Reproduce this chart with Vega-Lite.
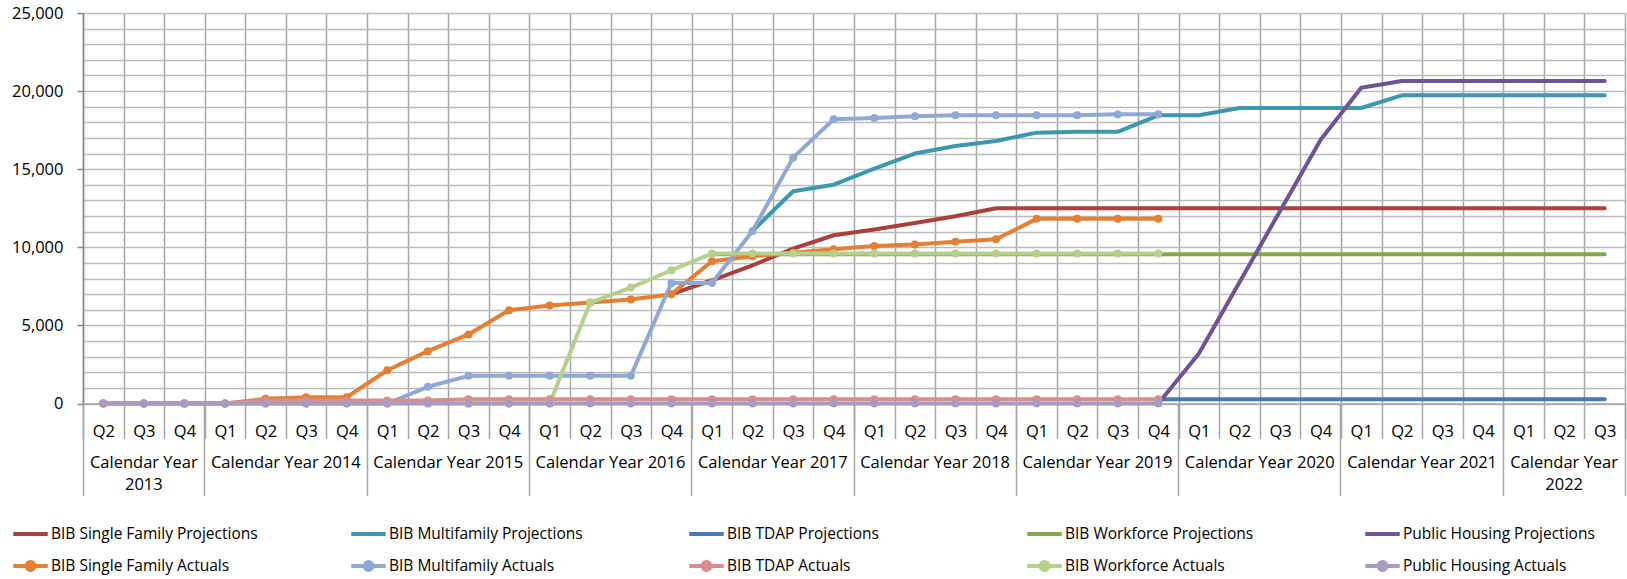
{
  "$schema": "https://vega.github.io/schema/vega-lite/v6.json",
  "width": 1542,
  "height": 390.5,
  "autosize": {"type": "none"},
  "padding": {"left": 83, "top": 13, "right": 2, "bottom": 175.5},
  "config": {"view": {"stroke": null}, "font": "Open Sans"},
  "data": {"values": [
    {"s":"BIB Single Family Projections","q":"2016 Q4","v":7000},
    {"s":"BIB Single Family Projections","q":"2017 Q1","v":7890},
    {"s":"BIB Single Family Projections","q":"2017 Q2","v":8850},
    {"s":"BIB Single Family Projections","q":"2017 Q3","v":9920},
    {"s":"BIB Single Family Projections","q":"2017 Q4","v":10770},
    {"s":"BIB Single Family Projections","q":"2018 Q1","v":11140},
    {"s":"BIB Single Family Projections","q":"2018 Q2","v":11560},
    {"s":"BIB Single Family Projections","q":"2018 Q3","v":11990},
    {"s":"BIB Single Family Projections","q":"2018 Q4","v":12500},
    {"s":"BIB Single Family Projections","q":"2019 Q1","v":12500},
    {"s":"BIB Single Family Projections","q":"2019 Q2","v":12500},
    {"s":"BIB Single Family Projections","q":"2019 Q3","v":12500},
    {"s":"BIB Single Family Projections","q":"2019 Q4","v":12500},
    {"s":"BIB Single Family Projections","q":"2020 Q1","v":12500},
    {"s":"BIB Single Family Projections","q":"2020 Q2","v":12500},
    {"s":"BIB Single Family Projections","q":"2020 Q3","v":12500},
    {"s":"BIB Single Family Projections","q":"2020 Q4","v":12500},
    {"s":"BIB Single Family Projections","q":"2021 Q1","v":12500},
    {"s":"BIB Single Family Projections","q":"2021 Q2","v":12500},
    {"s":"BIB Single Family Projections","q":"2021 Q3","v":12500},
    {"s":"BIB Single Family Projections","q":"2021 Q4","v":12500},
    {"s":"BIB Single Family Projections","q":"2022 Q1","v":12500},
    {"s":"BIB Single Family Projections","q":"2022 Q2","v":12500},
    {"s":"BIB Single Family Projections","q":"2022 Q3","v":12500},
    {"s":"BIB Multifamily Projections","q":"2017 Q2","v":11050},
    {"s":"BIB Multifamily Projections","q":"2017 Q3","v":13590},
    {"s":"BIB Multifamily Projections","q":"2017 Q4","v":14010},
    {"s":"BIB Multifamily Projections","q":"2018 Q1","v":15040},
    {"s":"BIB Multifamily Projections","q":"2018 Q2","v":16000},
    {"s":"BIB Multifamily Projections","q":"2018 Q3","v":16490},
    {"s":"BIB Multifamily Projections","q":"2018 Q4","v":16810},
    {"s":"BIB Multifamily Projections","q":"2019 Q1","v":17340},
    {"s":"BIB Multifamily Projections","q":"2019 Q2","v":17390},
    {"s":"BIB Multifamily Projections","q":"2019 Q3","v":17390},
    {"s":"BIB Multifamily Projections","q":"2019 Q4","v":18450},
    {"s":"BIB Multifamily Projections","q":"2020 Q1","v":18450},
    {"s":"BIB Multifamily Projections","q":"2020 Q2","v":18920},
    {"s":"BIB Multifamily Projections","q":"2020 Q3","v":18920},
    {"s":"BIB Multifamily Projections","q":"2020 Q4","v":18920},
    {"s":"BIB Multifamily Projections","q":"2021 Q1","v":18920},
    {"s":"BIB Multifamily Projections","q":"2021 Q2","v":19730},
    {"s":"BIB Multifamily Projections","q":"2021 Q3","v":19730},
    {"s":"BIB Multifamily Projections","q":"2021 Q4","v":19730},
    {"s":"BIB Multifamily Projections","q":"2022 Q1","v":19730},
    {"s":"BIB Multifamily Projections","q":"2022 Q2","v":19730},
    {"s":"BIB Multifamily Projections","q":"2022 Q3","v":19730},
    {"s":"BIB TDAP Projections","q":"2019 Q4","v":280},
    {"s":"BIB TDAP Projections","q":"2020 Q1","v":280},
    {"s":"BIB TDAP Projections","q":"2020 Q2","v":280},
    {"s":"BIB TDAP Projections","q":"2020 Q3","v":280},
    {"s":"BIB TDAP Projections","q":"2020 Q4","v":280},
    {"s":"BIB TDAP Projections","q":"2021 Q1","v":280},
    {"s":"BIB TDAP Projections","q":"2021 Q2","v":280},
    {"s":"BIB TDAP Projections","q":"2021 Q3","v":280},
    {"s":"BIB TDAP Projections","q":"2021 Q4","v":280},
    {"s":"BIB TDAP Projections","q":"2022 Q1","v":280},
    {"s":"BIB TDAP Projections","q":"2022 Q2","v":280},
    {"s":"BIB TDAP Projections","q":"2022 Q3","v":280},
    {"s":"BIB Workforce Projections","q":"2017 Q1","v":9550},
    {"s":"BIB Workforce Projections","q":"2017 Q2","v":9550},
    {"s":"BIB Workforce Projections","q":"2017 Q3","v":9550},
    {"s":"BIB Workforce Projections","q":"2017 Q4","v":9550},
    {"s":"BIB Workforce Projections","q":"2018 Q1","v":9550},
    {"s":"BIB Workforce Projections","q":"2018 Q2","v":9550},
    {"s":"BIB Workforce Projections","q":"2018 Q3","v":9550},
    {"s":"BIB Workforce Projections","q":"2018 Q4","v":9550},
    {"s":"BIB Workforce Projections","q":"2019 Q1","v":9550},
    {"s":"BIB Workforce Projections","q":"2019 Q2","v":9550},
    {"s":"BIB Workforce Projections","q":"2019 Q3","v":9550},
    {"s":"BIB Workforce Projections","q":"2019 Q4","v":9550},
    {"s":"BIB Workforce Projections","q":"2020 Q1","v":9550},
    {"s":"BIB Workforce Projections","q":"2020 Q2","v":9550},
    {"s":"BIB Workforce Projections","q":"2020 Q3","v":9550},
    {"s":"BIB Workforce Projections","q":"2020 Q4","v":9550},
    {"s":"BIB Workforce Projections","q":"2021 Q1","v":9550},
    {"s":"BIB Workforce Projections","q":"2021 Q2","v":9550},
    {"s":"BIB Workforce Projections","q":"2021 Q3","v":9550},
    {"s":"BIB Workforce Projections","q":"2021 Q4","v":9550},
    {"s":"BIB Workforce Projections","q":"2022 Q1","v":9550},
    {"s":"BIB Workforce Projections","q":"2022 Q2","v":9550},
    {"s":"BIB Workforce Projections","q":"2022 Q3","v":9550},
    {"s":"Public Housing Projections","q":"2019 Q4","v":0},
    {"s":"Public Housing Projections","q":"2020 Q1","v":3200},
    {"s":"Public Housing Projections","q":"2020 Q2","v":7760},
    {"s":"Public Housing Projections","q":"2020 Q3","v":12330},
    {"s":"Public Housing Projections","q":"2020 Q4","v":16890},
    {"s":"Public Housing Projections","q":"2021 Q1","v":20220},
    {"s":"Public Housing Projections","q":"2021 Q2","v":20650},
    {"s":"Public Housing Projections","q":"2021 Q3","v":20650},
    {"s":"Public Housing Projections","q":"2021 Q4","v":20650},
    {"s":"Public Housing Projections","q":"2022 Q1","v":20650},
    {"s":"Public Housing Projections","q":"2022 Q2","v":20650},
    {"s":"Public Housing Projections","q":"2022 Q3","v":20650},
    {"s":"BIB Single Family Actuals","q":"2013 Q2","v":0},
    {"s":"BIB Single Family Actuals","q":"2013 Q3","v":0},
    {"s":"BIB Single Family Actuals","q":"2013 Q4","v":0},
    {"s":"BIB Single Family Actuals","q":"2014 Q1","v":0},
    {"s":"BIB Single Family Actuals","q":"2014 Q2","v":300},
    {"s":"BIB Single Family Actuals","q":"2014 Q3","v":400},
    {"s":"BIB Single Family Actuals","q":"2014 Q4","v":400},
    {"s":"BIB Single Family Actuals","q":"2015 Q1","v":2130},
    {"s":"BIB Single Family Actuals","q":"2015 Q2","v":3350},
    {"s":"BIB Single Family Actuals","q":"2015 Q3","v":4420},
    {"s":"BIB Single Family Actuals","q":"2015 Q4","v":5970},
    {"s":"BIB Single Family Actuals","q":"2016 Q1","v":6270},
    {"s":"BIB Single Family Actuals","q":"2016 Q2","v":6460},
    {"s":"BIB Single Family Actuals","q":"2016 Q3","v":6660},
    {"s":"BIB Single Family Actuals","q":"2016 Q4","v":7000},
    {"s":"BIB Single Family Actuals","q":"2017 Q1","v":9110},
    {"s":"BIB Single Family Actuals","q":"2017 Q2","v":9430},
    {"s":"BIB Single Family Actuals","q":"2017 Q3","v":9650},
    {"s":"BIB Single Family Actuals","q":"2017 Q4","v":9880},
    {"s":"BIB Single Family Actuals","q":"2018 Q1","v":10090},
    {"s":"BIB Single Family Actuals","q":"2018 Q2","v":10180},
    {"s":"BIB Single Family Actuals","q":"2018 Q3","v":10350},
    {"s":"BIB Single Family Actuals","q":"2018 Q4","v":10520},
    {"s":"BIB Single Family Actuals","q":"2019 Q1","v":11820},
    {"s":"BIB Single Family Actuals","q":"2019 Q2","v":11820},
    {"s":"BIB Single Family Actuals","q":"2019 Q3","v":11820},
    {"s":"BIB Single Family Actuals","q":"2019 Q4","v":11820},
    {"s":"BIB Multifamily Actuals","q":"2013 Q2","v":0},
    {"s":"BIB Multifamily Actuals","q":"2013 Q3","v":0},
    {"s":"BIB Multifamily Actuals","q":"2013 Q4","v":0},
    {"s":"BIB Multifamily Actuals","q":"2014 Q1","v":0},
    {"s":"BIB Multifamily Actuals","q":"2014 Q2","v":0},
    {"s":"BIB Multifamily Actuals","q":"2014 Q3","v":0},
    {"s":"BIB Multifamily Actuals","q":"2014 Q4","v":0},
    {"s":"BIB Multifamily Actuals","q":"2015 Q1","v":0},
    {"s":"BIB Multifamily Actuals","q":"2015 Q2","v":1070},
    {"s":"BIB Multifamily Actuals","q":"2015 Q3","v":1770},
    {"s":"BIB Multifamily Actuals","q":"2015 Q4","v":1770},
    {"s":"BIB Multifamily Actuals","q":"2016 Q1","v":1770},
    {"s":"BIB Multifamily Actuals","q":"2016 Q2","v":1770},
    {"s":"BIB Multifamily Actuals","q":"2016 Q3","v":1770},
    {"s":"BIB Multifamily Actuals","q":"2016 Q4","v":7720},
    {"s":"BIB Multifamily Actuals","q":"2017 Q1","v":7720},
    {"s":"BIB Multifamily Actuals","q":"2017 Q2","v":11050},
    {"s":"BIB Multifamily Actuals","q":"2017 Q3","v":15740},
    {"s":"BIB Multifamily Actuals","q":"2017 Q4","v":18200},
    {"s":"BIB Multifamily Actuals","q":"2018 Q1","v":18280},
    {"s":"BIB Multifamily Actuals","q":"2018 Q2","v":18390},
    {"s":"BIB Multifamily Actuals","q":"2018 Q3","v":18450},
    {"s":"BIB Multifamily Actuals","q":"2018 Q4","v":18450},
    {"s":"BIB Multifamily Actuals","q":"2019 Q1","v":18450},
    {"s":"BIB Multifamily Actuals","q":"2019 Q2","v":18450},
    {"s":"BIB Multifamily Actuals","q":"2019 Q3","v":18520},
    {"s":"BIB Multifamily Actuals","q":"2019 Q4","v":18520},
    {"s":"BIB TDAP Actuals","q":"2013 Q2","v":0},
    {"s":"BIB TDAP Actuals","q":"2013 Q3","v":0},
    {"s":"BIB TDAP Actuals","q":"2013 Q4","v":0},
    {"s":"BIB TDAP Actuals","q":"2014 Q1","v":0},
    {"s":"BIB TDAP Actuals","q":"2014 Q2","v":200},
    {"s":"BIB TDAP Actuals","q":"2014 Q3","v":200},
    {"s":"BIB TDAP Actuals","q":"2014 Q4","v":200},
    {"s":"BIB TDAP Actuals","q":"2015 Q1","v":200},
    {"s":"BIB TDAP Actuals","q":"2015 Q2","v":200},
    {"s":"BIB TDAP Actuals","q":"2015 Q3","v":280},
    {"s":"BIB TDAP Actuals","q":"2015 Q4","v":280},
    {"s":"BIB TDAP Actuals","q":"2016 Q1","v":280},
    {"s":"BIB TDAP Actuals","q":"2016 Q2","v":280},
    {"s":"BIB TDAP Actuals","q":"2016 Q3","v":280},
    {"s":"BIB TDAP Actuals","q":"2016 Q4","v":280},
    {"s":"BIB TDAP Actuals","q":"2017 Q1","v":280},
    {"s":"BIB TDAP Actuals","q":"2017 Q2","v":280},
    {"s":"BIB TDAP Actuals","q":"2017 Q3","v":280},
    {"s":"BIB TDAP Actuals","q":"2017 Q4","v":280},
    {"s":"BIB TDAP Actuals","q":"2018 Q1","v":280},
    {"s":"BIB TDAP Actuals","q":"2018 Q2","v":280},
    {"s":"BIB TDAP Actuals","q":"2018 Q3","v":280},
    {"s":"BIB TDAP Actuals","q":"2018 Q4","v":280},
    {"s":"BIB TDAP Actuals","q":"2019 Q1","v":280},
    {"s":"BIB TDAP Actuals","q":"2019 Q2","v":280},
    {"s":"BIB TDAP Actuals","q":"2019 Q3","v":280},
    {"s":"BIB TDAP Actuals","q":"2019 Q4","v":280},
    {"s":"BIB Workforce Actuals","q":"2015 Q3","v":0},
    {"s":"BIB Workforce Actuals","q":"2015 Q4","v":0},
    {"s":"BIB Workforce Actuals","q":"2016 Q1","v":0},
    {"s":"BIB Workforce Actuals","q":"2016 Q2","v":6460},
    {"s":"BIB Workforce Actuals","q":"2016 Q3","v":7420},
    {"s":"BIB Workforce Actuals","q":"2016 Q4","v":8530},
    {"s":"BIB Workforce Actuals","q":"2017 Q1","v":9600},
    {"s":"BIB Workforce Actuals","q":"2017 Q2","v":9600},
    {"s":"BIB Workforce Actuals","q":"2017 Q3","v":9600},
    {"s":"BIB Workforce Actuals","q":"2017 Q4","v":9600},
    {"s":"BIB Workforce Actuals","q":"2018 Q1","v":9600},
    {"s":"BIB Workforce Actuals","q":"2018 Q2","v":9600},
    {"s":"BIB Workforce Actuals","q":"2018 Q3","v":9600},
    {"s":"BIB Workforce Actuals","q":"2018 Q4","v":9600},
    {"s":"BIB Workforce Actuals","q":"2019 Q1","v":9600},
    {"s":"BIB Workforce Actuals","q":"2019 Q2","v":9600},
    {"s":"BIB Workforce Actuals","q":"2019 Q3","v":9600},
    {"s":"BIB Workforce Actuals","q":"2019 Q4","v":9600},
    {"s":"Public Housing Actuals","q":"2013 Q2","v":0},
    {"s":"Public Housing Actuals","q":"2013 Q3","v":0},
    {"s":"Public Housing Actuals","q":"2013 Q4","v":0},
    {"s":"Public Housing Actuals","q":"2014 Q1","v":0},
    {"s":"Public Housing Actuals","q":"2014 Q2","v":0},
    {"s":"Public Housing Actuals","q":"2014 Q3","v":0},
    {"s":"Public Housing Actuals","q":"2014 Q4","v":0},
    {"s":"Public Housing Actuals","q":"2015 Q1","v":0},
    {"s":"Public Housing Actuals","q":"2015 Q2","v":0},
    {"s":"Public Housing Actuals","q":"2015 Q3","v":0},
    {"s":"Public Housing Actuals","q":"2015 Q4","v":0},
    {"s":"Public Housing Actuals","q":"2016 Q1","v":0},
    {"s":"Public Housing Actuals","q":"2016 Q2","v":0},
    {"s":"Public Housing Actuals","q":"2016 Q3","v":0},
    {"s":"Public Housing Actuals","q":"2016 Q4","v":0},
    {"s":"Public Housing Actuals","q":"2017 Q1","v":0},
    {"s":"Public Housing Actuals","q":"2017 Q2","v":0},
    {"s":"Public Housing Actuals","q":"2017 Q3","v":0},
    {"s":"Public Housing Actuals","q":"2017 Q4","v":0},
    {"s":"Public Housing Actuals","q":"2018 Q1","v":0},
    {"s":"Public Housing Actuals","q":"2018 Q2","v":0},
    {"s":"Public Housing Actuals","q":"2018 Q3","v":0},
    {"s":"Public Housing Actuals","q":"2018 Q4","v":0},
    {"s":"Public Housing Actuals","q":"2019 Q1","v":0},
    {"s":"Public Housing Actuals","q":"2019 Q2","v":0},
    {"s":"Public Housing Actuals","q":"2019 Q3","v":0},
    {"s":"Public Housing Actuals","q":"2019 Q4","v":0}
  ]},
  "resolve": {"scale": {"x": "independent"}, "axis": {"x": "independent"}},
  "layer": [
    {
      "transform": [{"filter": "indexof(datum.s, 'Projections') >= 0"}],
      "mark": {"type": "line", "strokeWidth": 4, "strokeCap": "round", "strokeJoin": "round"},
      "encoding": {
        "x": {"field": "q", "type": "ordinal",
          "scale": {"domain": ["2013 Q2","2013 Q3","2013 Q4","2014 Q1","2014 Q2","2014 Q3","2014 Q4","2015 Q1","2015 Q2","2015 Q3","2015 Q4","2016 Q1","2016 Q2","2016 Q3","2016 Q4","2017 Q1","2017 Q2","2017 Q3","2017 Q4","2018 Q1","2018 Q2","2018 Q3","2018 Q4","2019 Q1","2019 Q2","2019 Q3","2019 Q4","2020 Q1","2020 Q2","2020 Q3","2020 Q4","2021 Q1","2021 Q2","2021 Q3","2021 Q4","2022 Q1","2022 Q2","2022 Q3"], "paddingInner": 0, "paddingOuter": 0},
          "axis": {"orient": "bottom", "title": null, "tickBand": "extent", "grid": true, "gridColor": "#a6a6a6", "gridWidth": 1.5, "tickSize": 35, "tickColor": "#a6a6a6", "tickWidth": 1.5, "domainColor": "#a6a6a6", "domainWidth": 1.5, "labelExpr": "split(datum.value, ' ')[1]", "labelAngle": 0, "labelBaseline": "middle", "labelPadding": -7, "labelFont": "Open Sans", "labelFontSize": 16.5, "labelColor": "#000000", "labelOverlap": false}},
        "y": {"field": "v", "type": "quantitative",
          "scale": {"domain": [0, 25000], "nice": false},
          "axis": {"title": null, "values": [0,1000,2000,3000,4000,5000,6000,7000,8000,9000,10000,11000,12000,13000,14000,15000,16000,17000,18000,19000,20000,21000,22000,23000,24000,25000],
            "labelExpr": "datum.value % 5000 === 0 ? format(datum.value, ',') : ''",
            "labelOverlap": false,
            "grid": true, "gridColor": "#bcbcbc", "gridWidth": 1.5,
            "tickSize": 6, "tickColor": "#868686", "tickWidth": 1.5,
            "tickOpacity": {"condition": {"test": "datum.value % 5000 !== 0", "value": 0}, "value": 1},
            "domainColor": "#868686", "domainWidth": 1.5,
            "labelFont": "Open Sans", "labelFontSize": 16.5, "labelColor": "#000000", "labelPadding": 14}},
        "color": {"field": "s", "type": "nominal",
          "scale": {
            "domain": ["BIB Single Family Projections","BIB Multifamily Projections","BIB TDAP Projections","BIB Workforce Projections","Public Housing Projections","BIB Single Family Actuals","BIB Multifamily Actuals","BIB TDAP Actuals","BIB Workforce Actuals","Public Housing Actuals"],
            "range": ["#A9403C","#3D97AE","#4A79B5","#84A94A","#6E5396","#E47F34","#8FA9D4","#D88E8C","#B5CF8C","#A79BC2"]},
          "legend": {
            "orient": "none", "legendX": -66, "legendY": 505.5, "direction": "horizontal", "columns": 5, "gridAlign": "all",
            "columnPadding": 85, "rowPadding": 8, "padding": 0, "title": null,
            "labelFont": "Open Sans", "labelFontSize": 15.5, "labelColor": "#000000", "labelLimit": 400, "labelOffset": 7,
            "symbolSize": 529, "symbolStrokeWidth": 4,
            "encode": {"symbols": {"update": {
              "shape": {"signal": "indexof(datum.value, 'Actuals') >= 0 ? 'M-1.5,0H1.5M0.35,0A0.35,0.35 0 1,1 -0.35,0A0.35,0.35 0 1,1 0.35,0Z' : 'M-1.5,0H1.5'"},
              "fill": {"scale": "color", "field": "value"},
              "stroke": {"scale": "color", "field": "value"},
              "strokeWidth": {"value": 4},
              "opacity": {"value": 1}}}}
          }}
      }
    },
    {
      "transform": [{"filter": "indexof(datum.s, 'Actuals') >= 0"}],
      "mark": {"type": "line", "strokeWidth": 4, "strokeCap": "round", "strokeJoin": "round"},
      "encoding": {
        "x": {"field": "q", "type": "ordinal",
          "scale": {"domain": ["2013 Q2","2013 Q3","2013 Q4","2014 Q1","2014 Q2","2014 Q3","2014 Q4","2015 Q1","2015 Q2","2015 Q3","2015 Q4","2016 Q1","2016 Q2","2016 Q3","2016 Q4","2017 Q1","2017 Q2","2017 Q3","2017 Q4","2018 Q1","2018 Q2","2018 Q3","2018 Q4","2019 Q1","2019 Q2","2019 Q3","2019 Q4","2020 Q1","2020 Q2","2020 Q3","2020 Q4","2021 Q1","2021 Q2","2021 Q3","2021 Q4","2022 Q1","2022 Q2","2022 Q3"], "paddingInner": 0, "paddingOuter": 0},
          "axis": null},
        "y": {"field": "v", "type": "quantitative",
          "axis": {"title": null, "values": [0,1000,2000,3000,4000,5000,6000,7000,8000,9000,10000,11000,12000,13000,14000,15000,16000,17000,18000,19000,20000,21000,22000,23000,24000,25000],
            "labelExpr": "datum.value % 5000 === 0 ? format(datum.value, ',') : ''",
            "labelOverlap": false,
            "grid": true, "gridColor": "#bcbcbc", "gridWidth": 1.5,
            "tickSize": 6, "tickColor": "#868686", "tickWidth": 1.5,
            "tickOpacity": {"condition": {"test": "datum.value % 5000 !== 0", "value": 0}, "value": 1},
            "domainColor": "#868686", "domainWidth": 1.5,
            "labelFont": "Open Sans", "labelFontSize": 16.5, "labelColor": "#000000", "labelPadding": 14}},
        "color": {"field": "s", "type": "nominal"}
      }
    },
    {
      "transform": [{"filter": "indexof(datum.s, 'Actuals') >= 0"}],
      "mark": {"type": "point", "filled": true, "opacity": 1, "size": 64},
      "encoding": {
        "x": {"field": "q", "type": "ordinal",
          "scale": {"domain": ["2013 Q2","2013 Q3","2013 Q4","2014 Q1","2014 Q2","2014 Q3","2014 Q4","2015 Q1","2015 Q2","2015 Q3","2015 Q4","2016 Q1","2016 Q2","2016 Q3","2016 Q4","2017 Q1","2017 Q2","2017 Q3","2017 Q4","2018 Q1","2018 Q2","2018 Q3","2018 Q4","2019 Q1","2019 Q2","2019 Q3","2019 Q4","2020 Q1","2020 Q2","2020 Q3","2020 Q4","2021 Q1","2021 Q2","2021 Q3","2021 Q4","2022 Q1","2022 Q2","2022 Q3"], "paddingInner": 0, "paddingOuter": 0},
          "axis": null},
        "y": {"field": "v", "type": "quantitative",
          "axis": {"title": null, "values": [0,1000,2000,3000,4000,5000,6000,7000,8000,9000,10000,11000,12000,13000,14000,15000,16000,17000,18000,19000,20000,21000,22000,23000,24000,25000],
            "labelExpr": "datum.value % 5000 === 0 ? format(datum.value, ',') : ''",
            "labelOverlap": false,
            "grid": true, "gridColor": "#bcbcbc", "gridWidth": 1.5,
            "tickSize": 6, "tickColor": "#868686", "tickWidth": 1.5,
            "tickOpacity": {"condition": {"test": "datum.value % 5000 !== 0", "value": 0}, "value": 1},
            "domainColor": "#868686", "domainWidth": 1.5,
            "labelFont": "Open Sans", "labelFontSize": 16.5, "labelColor": "#000000", "labelPadding": 14}},
        "color": {"field": "s", "type": "nominal"}
      }
    },
    {
      "mark": {"type": "rule", "opacity": 0},
      "encoding": {
        "x": {"field": "q", "type": "ordinal",
          "scale": {"domain": ["2013 Q2","2013 Q3","2013 Q4","2014 Q1","2014 Q2","2014 Q3","2014 Q4","2015 Q1","2015 Q2","2015 Q3","2015 Q4","2016 Q1","2016 Q2","2016 Q3","2016 Q4","2017 Q1","2017 Q2","2017 Q3","2017 Q4","2018 Q1","2018 Q2","2018 Q3","2018 Q4","2019 Q1","2019 Q2","2019 Q3","2019 Q4","2020 Q1","2020 Q2","2020 Q3","2020 Q4","2021 Q1","2021 Q2","2021 Q3","2021 Q4","2022 Q1","2022 Q2","2022 Q3"], "paddingInner": 0, "paddingOuter": 0},
          "axis": {"orient": "bottom", "title": null, "values": ["2013 Q3","2014 Q3","2015 Q3","2016 Q3","2017 Q3","2018 Q3","2019 Q3","2020 Q3","2021 Q3","2022 Q2"],
            "labelExpr": "datum.value == '2013 Q3' ? ['Calendar Year', '2013'] : datum.value == '2022 Q2' ? ['Calendar Year', '2022'] : 'Calendar Year ' + slice(datum.value, 0, 4)",
            "labelOffset": {"condition": {"test": "datum.value == '2013 Q3' || datum.value == '2022 Q2'", "value": 0}, "value": -20.3},
            "ticks": false, "grid": false, "domain": false, "labelAngle": 0, "labelBaseline": "top", "labelPadding": 50.5,
            "labelLineHeight": 22.5, "labelFont": "Open Sans", "labelFontSize": 16.5, "labelColor": "#000000", "labelOverlap": false, "labelFlush": false}}
      }
    },
    {
      "mark": {"type": "rule", "opacity": 0},
      "encoding": {
        "x": {"field": "q", "type": "ordinal",
          "scale": {"domain": ["2013 Q2","2013 Q3","2013 Q4","2014 Q1","2014 Q2","2014 Q3","2014 Q4","2015 Q1","2015 Q2","2015 Q3","2015 Q4","2016 Q1","2016 Q2","2016 Q3","2016 Q4","2017 Q1","2017 Q2","2017 Q3","2017 Q4","2018 Q1","2018 Q2","2018 Q3","2018 Q4","2019 Q1","2019 Q2","2019 Q3","2019 Q4","2020 Q1","2020 Q2","2020 Q3","2020 Q4","2021 Q1","2021 Q2","2021 Q3","2021 Q4","2022 Q1","2022 Q2","2022 Q3"], "paddingInner": 0, "paddingOuter": 0},
          "axis": {"orient": "bottom", "title": null, "values": ["2013 Q4","2014 Q4","2015 Q4","2016 Q4","2017 Q4","2018 Q4","2019 Q4","2020 Q4","2021 Q4","2022 Q3"],
            "bandPosition": 1, "labels": false, "grid": false, "domain": false,
            "ticks": true, "tickSize": 92, "tickColor": "#a6a6a6", "tickWidth": 1.5}}
      }
    },
    {
      "mark": {"type": "rule", "opacity": 0},
      "encoding": {
        "x": {"field": "q", "type": "ordinal",
          "scale": {"domain": ["2013 Q2","2013 Q3","2013 Q4","2014 Q1","2014 Q2","2014 Q3","2014 Q4","2015 Q1","2015 Q2","2015 Q3","2015 Q4","2016 Q1","2016 Q2","2016 Q3","2016 Q4","2017 Q1","2017 Q2","2017 Q3","2017 Q4","2018 Q1","2018 Q2","2018 Q3","2018 Q4","2019 Q1","2019 Q2","2019 Q3","2019 Q4","2020 Q1","2020 Q2","2020 Q3","2020 Q4","2021 Q1","2021 Q2","2021 Q3","2021 Q4","2022 Q1","2022 Q2","2022 Q3"], "paddingInner": 0, "paddingOuter": 0},
          "axis": {"orient": "bottom", "title": null, "values": ["2013 Q2"],
            "bandPosition": 0, "labels": false, "grid": false, "domain": false,
            "ticks": true, "tickSize": 92, "tickColor": "#a6a6a6", "tickWidth": 1.5}}
      }
    }
  ]
}
